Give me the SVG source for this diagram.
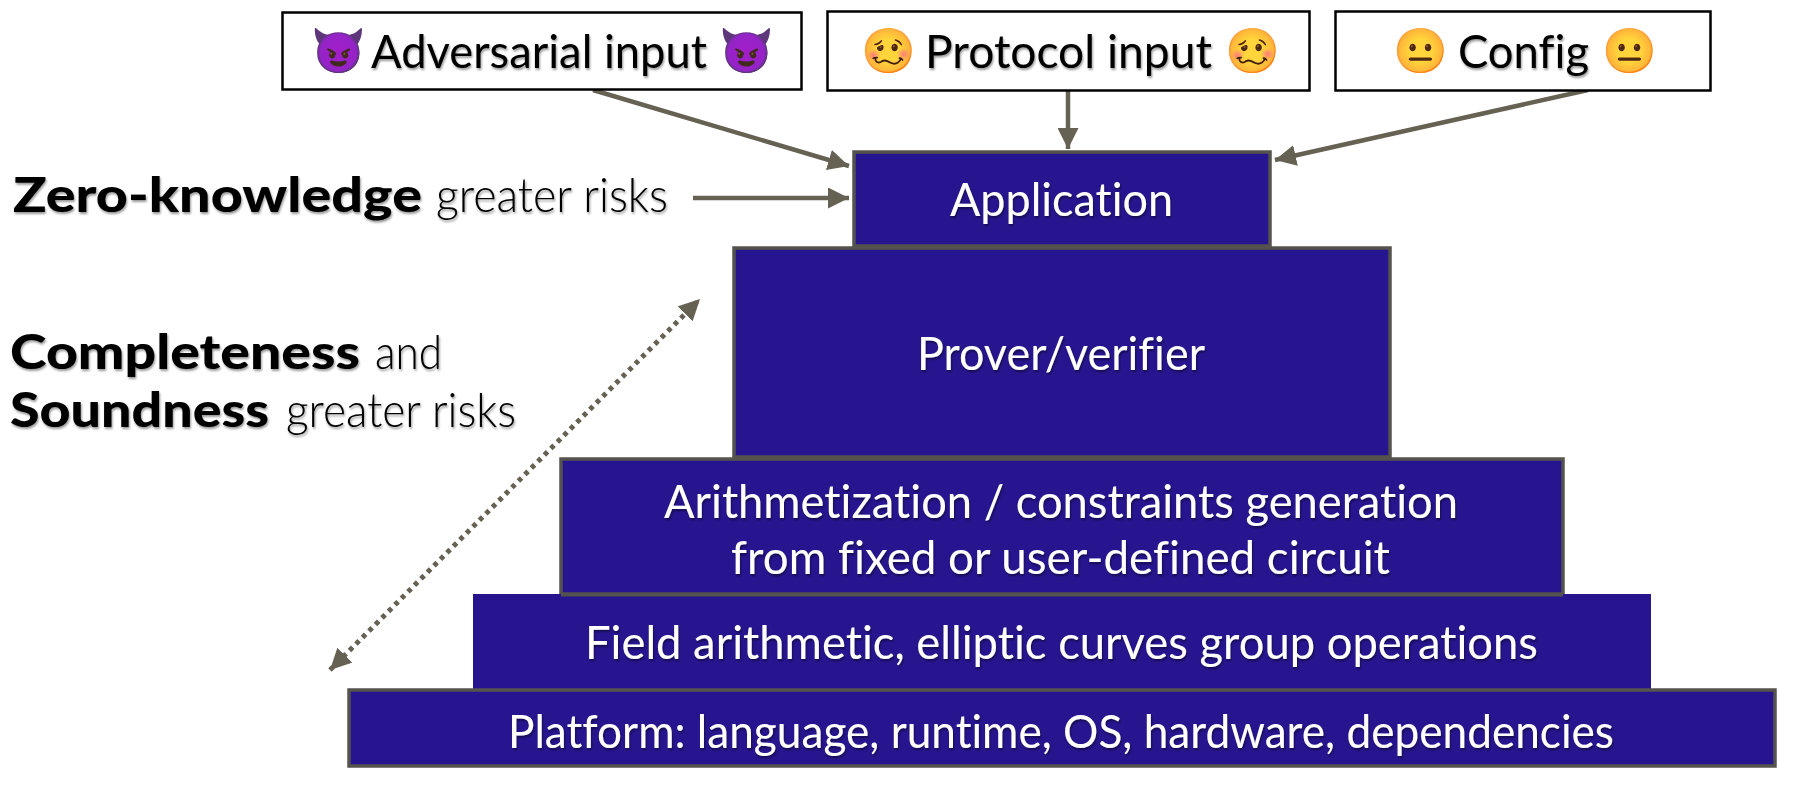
<svg xmlns="http://www.w3.org/2000/svg" width="1812" height="793" viewBox="0 0 1812 793">
<style>
text{font-family:"Lato","Open Sans","Liberation Sans",sans-serif;font-feature-settings:"liga" 0}
.in{fill:#fff;stroke:#000;stroke-width:2.5}
.lay{fill:#27158f;stroke:#55534d;stroke-width:3.5}
.w{fill:#fff;font-size:47px;filter:url(#sw)}
.k{fill:#000;font-size:47px;filter:url(#sk)}
.b{font-weight:900;font-size:48px;fill:#000;filter:url(#sk)}
.l{font-weight:300;font-size:48px;fill:#000;filter:url(#sk)}
.c{stroke:#666253;stroke-width:4.500;fill:none}
.d{stroke-width:5;stroke-dasharray:4.500 4.700}
.e{font-family:"Noto Color Emoji","Apple Color Emoji","DejaVu Sans",sans-serif;font-size:44px}
.pu{filter:url(#hp)}
.or{filter:url(#ho)}
</style>
<defs>
<filter id="sw" x="-5%" y="-20%" width="110%" height="150%"><feDropShadow dx="1" dy="2" stdDeviation="1.2" flood-color="#000" flood-opacity=".45"/></filter>
<filter id="sk" x="-5%" y="-20%" width="110%" height="150%"><feDropShadow dx="1" dy="2" stdDeviation="1.2" flood-color="#000" flood-opacity=".4"/></filter>
<filter id="hp" color-interpolation-filters="sRGB"><feColorMatrix type="hueRotate" values="-14"/><feColorMatrix type="saturate" values="0.7"/></filter>
<filter id="ho" color-interpolation-filters="sRGB"><feColorMatrix type="hueRotate" values="-12"/></filter>
<marker id="a" viewBox="0 0 10 10" refX="10" refY="5" markerUnits="userSpaceOnUse" markerWidth="21" markerHeight="21" orient="auto-start-reverse"><path d="M0 0L10 5L0 10Z" fill="#666253"/></marker>
</defs>
<g id="connectors">
<path class="c" marker-end="url(#a)" d="M593 90L849 166"/>
<path class="c" marker-end="url(#a)" d="M1068 90V149"/>
<path class="c" marker-end="url(#a)" d="M1588 90L1275 160"/>
<path class="c" marker-end="url(#a)" d="M693 198H849"/>
<path class="c d" marker-start="url(#a)" marker-end="url(#a)" d="M330 670L700 299"/>
</g>
<g id="adversarial"><rect class="in" x="282.500" y="12.500" width="519" height="77"/>
<text class="e pu" x="311" y="66">😈</text><text class="k" x="371" y="68" textLength="336" lengthAdjust="spacingAndGlyphs">Adversarial input</text><text class="e pu" x="719" y="66">😈</text></g>
<g id="protocol"><rect class="in" x="827.500" y="11.500" width="482" height="79"/>
<text class="e or" x="861" y="66">🥴</text><text class="k" x="925" y="68" textLength="287" lengthAdjust="spacingAndGlyphs">Protocol input</text><text class="e or" x="1225" y="66">🥴</text></g>
<g id="config"><rect class="in" x="1335.500" y="11.500" width="375" height="79"/>
<text class="e or" x="1393" y="66">😐</text><text class="k" x="1458" y="68" textLength="131" lengthAdjust="spacingAndGlyphs">Config</text><text class="e or" x="1602" y="66">😐</text></g>
<g id="zk"><text class="b" x="13" y="212" textLength="409" lengthAdjust="spacingAndGlyphs">Zero-knowledge</text><text class="l" x="436" y="212" textLength="232" lengthAdjust="spacingAndGlyphs">greater risks</text></g>
<g id="cs"><text class="b" x="10" y="369" textLength="350" lengthAdjust="spacingAndGlyphs">Completeness</text><text class="l" x="375" y="369" textLength="67" lengthAdjust="spacingAndGlyphs">and</text>
<text class="b" x="10" y="427" textLength="259" lengthAdjust="spacingAndGlyphs">Soundness</text><text class="l" x="286" y="427" textLength="230" lengthAdjust="spacingAndGlyphs">greater risks</text></g>
<g id="application"><rect class="lay" x="854" y="152" width="416" height="94"/><text class="w" x="950" y="216" textLength="223" lengthAdjust="spacingAndGlyphs">Application</text></g>
<g id="prover"><rect class="lay" x="734" y="248" width="656" height="209"/><text class="w" x="917" y="370" textLength="288" lengthAdjust="spacingAndGlyphs">Prover/verifier</text></g>
<g id="arith"><rect class="lay" x="561" y="459" width="1002" height="135"/><text class="w" x="664" y="518" textLength="794" lengthAdjust="spacingAndGlyphs">Arithmetization / constraints generation</text><text class="w" x="731" y="574" textLength="659" lengthAdjust="spacingAndGlyphs">from fixed or user-defined circuit</text></g>
<g id="field"><rect x="473" y="594" width="1178" height="96" fill="#27158f"/><path d="M561 595H1563" stroke="#55534d" stroke-width="3" fill="none"/><text class="w" x="585" y="659" textLength="953" lengthAdjust="spacingAndGlyphs">Field arithmetic, elliptic curves group operations</text></g>
<g id="platform"><rect class="lay" x="349" y="690" width="1426" height="76"/><text class="w" x="508" y="748" textLength="1106" lengthAdjust="spacingAndGlyphs">Platform: language, runtime, OS, hardware, dependencies</text></g>
</svg>
